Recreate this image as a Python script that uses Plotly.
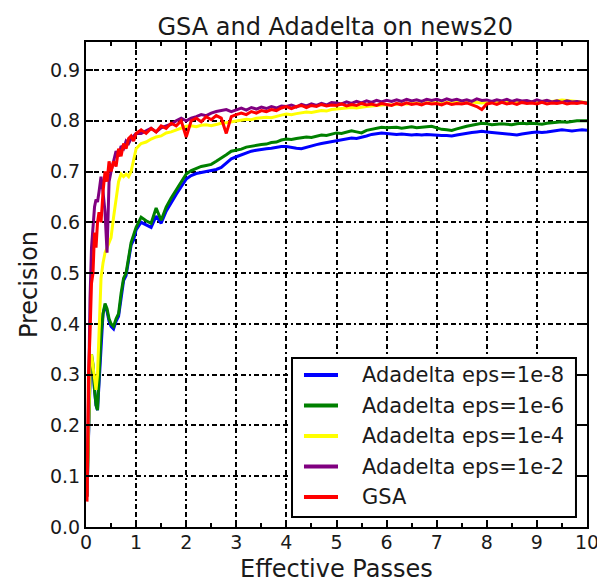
import numpy as np
import plotly.graph_objects as go

# Effective passes: fine spacing during the first pass, then every 0.1 pass
passes_early = [0.02, 0.05, 0.08, 0.11, 0.14, 0.17, 0.20, 0.23, 0.26, 0.30,
                0.34, 0.38, 0.42, 0.46, 0.50, 0.55, 0.60, 0.65, 0.70, 0.75,
                0.80, 0.85, 0.90, 0.95, 1.00]
passes_late = [round(v, 1) for v in np.arange(1.1, 10.05, 0.1)]
passes = passes_early + passes_late

ada_1e8 = [0.06, 0.18, 0.29, 0.33, 0.31, 0.27, 0.24, 0.23, 0.29, 0.37,
           0.42, 0.435, 0.425, 0.405, 0.395, 0.39, 0.405, 0.415, 0.455, 0.485,
           0.495, 0.525, 0.555, 0.565, 0.585,
           0.600, 0.595, 0.590, 0.612, 0.598, 0.622, 0.640, 0.655, 0.670, 0.685,
           0.692, 0.696, 0.698, 0.700, 0.702, 0.704, 0.708, 0.716, 0.725, 0.729,
           0.733, 0.737, 0.740, 0.742, 0.744, 0.745, 0.746, 0.748, 0.749, 0.749,
           0.747, 0.746, 0.745, 0.748, 0.751, 0.753, 0.755, 0.757, 0.759, 0.761,
           0.762, 0.764, 0.766, 0.765, 0.767, 0.770, 0.773, 0.775, 0.776, 0.775,
           0.774, 0.773, 0.774, 0.773, 0.772, 0.773, 0.772, 0.773, 0.772, 0.772,
           0.771, 0.771, 0.770, 0.772, 0.774, 0.776, 0.777, 0.778, 0.779, 0.778,
           0.777, 0.776, 0.775, 0.773, 0.772, 0.772, 0.774, 0.776, 0.777, 0.778,
           0.777, 0.778, 0.779, 0.781, 0.782, 0.781, 0.780, 0.781, 0.782, 0.781]

ada_1e6 = [0.06, 0.18, 0.30, 0.34, 0.32, 0.27, 0.24, 0.23, 0.30, 0.38,
           0.42, 0.44, 0.43, 0.41, 0.40, 0.395, 0.41, 0.42, 0.46, 0.49,
           0.50, 0.53, 0.56, 0.575, 0.59,
           0.610, 0.603, 0.598, 0.628, 0.604, 0.630, 0.648, 0.664, 0.680, 0.695,
           0.702, 0.706, 0.710, 0.712, 0.714, 0.720, 0.726, 0.733, 0.740, 0.742,
           0.744, 0.748, 0.750, 0.751, 0.753, 0.754, 0.757, 0.758, 0.762, 0.764,
           0.763, 0.765, 0.766, 0.768, 0.767, 0.770, 0.772, 0.771, 0.774, 0.776,
           0.775, 0.777, 0.780, 0.778, 0.776, 0.781, 0.783, 0.785, 0.787, 0.786,
           0.786, 0.787, 0.785, 0.787, 0.788, 0.786, 0.787, 0.788, 0.789, 0.786,
           0.783, 0.782, 0.781, 0.784, 0.787, 0.789, 0.791, 0.793, 0.795, 0.794,
           0.792, 0.793, 0.794, 0.793, 0.792, 0.794, 0.795, 0.794, 0.795, 0.794,
           0.793, 0.795, 0.796, 0.797, 0.798, 0.797, 0.799, 0.800, 0.800, 0.800]

ada_1e4 = [0.06, 0.20, 0.32, 0.34, 0.32, 0.29, 0.27, 0.30, 0.40, 0.49,
           0.52, 0.54, 0.55, 0.56, 0.57, 0.61, 0.65, 0.68, 0.695, 0.69,
           0.695, 0.69, 0.70, 0.72, 0.745,
           0.755, 0.758, 0.764, 0.768, 0.770, 0.776, 0.778, 0.782, 0.786, 0.789,
           0.790, 0.788, 0.791, 0.792, 0.790, 0.793, 0.795, 0.796, 0.798, 0.800,
           0.801, 0.803, 0.802, 0.805, 0.806, 0.807, 0.806, 0.809, 0.811, 0.813,
           0.812, 0.814, 0.815, 0.817, 0.816, 0.818, 0.820, 0.819, 0.822, 0.823,
           0.824, 0.825, 0.826, 0.825, 0.827, 0.828, 0.829, 0.830, 0.831, 0.832,
           0.831, 0.833, 0.834, 0.833, 0.834, 0.835, 0.834, 0.835, 0.836, 0.835,
           0.834, 0.836, 0.835, 0.836, 0.835, 0.836, 0.837, 0.836, 0.835, 0.836,
           0.837, 0.836, 0.838, 0.837, 0.836, 0.837, 0.838, 0.837, 0.838, 0.837,
           0.838, 0.839, 0.838, 0.840, 0.841, 0.840, 0.839, 0.838, 0.837, 0.836]

ada_1e2 = [0.06, 0.30, 0.45, 0.55, 0.60, 0.63, 0.645, 0.64, 0.66, 0.69,
           0.66, 0.62, 0.54, 0.68, 0.70, 0.72, 0.74, 0.73, 0.75, 0.745,
           0.76, 0.755, 0.765, 0.77, 0.775,
           0.775, 0.780, 0.785, 0.778, 0.786, 0.790, 0.793, 0.800, 0.805, 0.800,
           0.805, 0.808, 0.812, 0.810, 0.815, 0.818, 0.820, 0.822, 0.818, 0.822,
           0.825, 0.821, 0.826, 0.823, 0.827, 0.824, 0.828, 0.825, 0.829, 0.828,
           0.831, 0.827, 0.832, 0.829, 0.833, 0.830, 0.834, 0.831, 0.836, 0.835,
           0.833, 0.837, 0.834, 0.838, 0.835, 0.839, 0.836, 0.840, 0.837, 0.840,
           0.838, 0.841, 0.838, 0.842, 0.839, 0.841, 0.838, 0.842, 0.840, 0.842,
           0.839, 0.843, 0.840, 0.842, 0.839, 0.841, 0.838, 0.843, 0.840, 0.841,
           0.838, 0.841, 0.839, 0.842, 0.838, 0.841, 0.839, 0.840, 0.837, 0.841,
           0.838, 0.840, 0.837, 0.839, 0.836, 0.839, 0.837, 0.838, 0.836, 0.835]

gsa = [0.05, 0.30, 0.38, 0.48, 0.50, 0.58, 0.55, 0.60, 0.62, 0.60,
       0.66, 0.70, 0.68, 0.72, 0.70, 0.72, 0.71, 0.745, 0.73, 0.755,
       0.745, 0.765, 0.77, 0.76, 0.775,
       0.782, 0.775, 0.785, 0.778, 0.790, 0.785, 0.795, 0.790, 0.800, 0.768,
       0.800, 0.805, 0.798, 0.808, 0.802, 0.810, 0.805, 0.775, 0.808, 0.812,
       0.815, 0.812, 0.818, 0.815, 0.820, 0.818, 0.822, 0.820, 0.825, 0.828,
       0.824, 0.828, 0.830, 0.826, 0.830, 0.828, 0.832, 0.829, 0.831, 0.830,
       0.833, 0.829, 0.832, 0.830, 0.834, 0.831, 0.833, 0.830, 0.834, 0.832,
       0.830, 0.834, 0.831, 0.835, 0.832, 0.834, 0.831, 0.835, 0.833, 0.834,
       0.831, 0.835, 0.832, 0.834, 0.833, 0.835, 0.832, 0.828, 0.822, 0.833,
       0.835, 0.832, 0.836, 0.833, 0.835, 0.832, 0.836, 0.834, 0.835, 0.833,
       0.836, 0.833, 0.835, 0.834, 0.836, 0.833, 0.835, 0.834, 0.836, 0.834]

series = [
    ("Adadelta eps=1e-8", ada_1e8, "#0000ff"),
    ("Adadelta eps=1e-6", ada_1e6, "#008000"),
    ("Adadelta eps=1e-4", ada_1e4, "#ffff00"),
    ("Adadelta eps=1e-2", ada_1e2, "#800080"),
    ("GSA", gsa, "#ff0000"),
]

x_ticks = list(range(0, 11))
y_ticks = [0.0, 0.1, 0.2, 0.3, 0.4, 0.5, 0.6, 0.7, 0.8, 0.9]
y_tick_text = [f"{v:.1f}" for v in y_ticks]

FONT = "DejaVu Sans"
INK = "#1a1a1a"
GRID_DASH = "5px,3px,5px,3px,2px,3px"

fig = go.Figure()
for name, values, color in series:
    fig.add_trace(go.Scatter(x=passes, y=values, mode="lines", name=name,
                             line=dict(color=color, width=3),
                             showlegend=False))

# Framed legend in the lower right of the axes (paper coordinates)
LEG_X0, LEG_X1 = 0.4112, 0.978
LEG_Y0, LEG_Y1 = 0.0206, 0.3485
SAMPLE_X0, SAMPLE_X1 = 0.4351, 0.5030
LABEL_X = 0.5469
ROW_TOP, ROW_STEP = 0.3134, 0.0629

shapes = [dict(type="rect", xref="paper", yref="paper",
               x0=LEG_X0, x1=LEG_X1, y0=LEG_Y0, y1=LEG_Y1,
               fillcolor="white", line=dict(color="black", width=2),
               layer="above")]
annotations = []
for i, (name, _, color) in enumerate(series):
    row_y = ROW_TOP - i * ROW_STEP
    shapes.append(dict(type="line", xref="paper", yref="paper",
                       x0=SAMPLE_X0, x1=SAMPLE_X1, y0=row_y, y1=row_y,
                       line=dict(color=color, width=4), layer="above"))
    annotations.append(dict(text=name, xref="paper", yref="paper",
                            x=LABEL_X, y=row_y, xanchor="left",
                            yanchor="middle", showarrow=False,
                            font=dict(family=FONT, size=21, color=INK)))

# x-axis caption placed below the tick labels
annotations.append(dict(text="Effective Passes", xref="paper", yref="paper",
                        x=0.5, y=-0.086, xanchor="center", yanchor="middle",
                        showarrow=False, borderpad=0,
                        font=dict(family=FONT, size=24, color=INK)))

axis_common = dict(
    showline=True, linecolor="black", linewidth=2, mirror="allticks",
    ticks="inside", ticklen=7, tickwidth=2, tickcolor="black",
    showgrid=True, gridcolor="black", gridwidth=1.5, griddash=GRID_DASH,
    zeroline=False, ticklabeloverflow="allow", automargin=False,
    tickfont=dict(family=FONT, size=19, color=INK),
    title_font=dict(family=FONT, size=24, color=INK),
)

fig.update_layout(
    width=597, height=581,
    margin=dict(l=86, r=10, t=42, b=54),
    paper_bgcolor="white", plot_bgcolor="white",
    title=dict(text="GSA and Adadelta on news20", x=0.5615, xanchor="center",
               y=0.955, yanchor="middle",
               font=dict(family=FONT, size=24, color=INK)),
    showlegend=False,
    shapes=shapes,
    annotations=annotations,
    xaxis=dict(range=[0, 10], tickvals=x_ticks, ticklabelstandoff=-3,
               minor=dict(ticks="inside", ticklen=4, tickwidth=2,
                          tickcolor="black", dtick=0.5, showgrid=False),
               **axis_common),
    yaxis=dict(range=[0, 0.955], tickvals=y_ticks, ticktext=y_tick_text,
               title=dict(text="Precision", standoff=6),
               **axis_common),
)

fig.write_html("out.html")
